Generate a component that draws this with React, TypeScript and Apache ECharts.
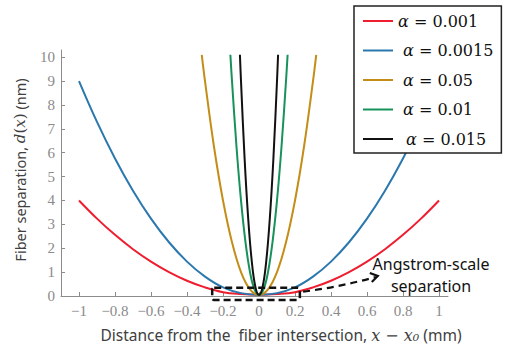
import React, { useEffect, useRef } from "react";
import * as echarts from "echarts";

const xTicks = [-1, -0.8, -0.6, -0.4, -0.2, 0, 0.2, 0.4, 0.6, 0.8, 1];
const yTicks = [0, 1, 2, 3, 4, 5, 6, 7, 8, 9, 10];

const alphaNames = ["0.001", "0.0015", "0.05", "0.01", "0.015"];
const colors = ["#ee1d2f", "#2a78ad", "#c48d18", "#16925a", "#111111"];

const redX = [-1, -0.9, -0.8, -0.7, -0.6, -0.5, -0.4, -0.3, -0.2, -0.1, 0, 0.1, 0.2, 0.3, 0.4, 0.5, 0.6, 0.7, 0.8, 0.9, 1];
const redD = [4, 3.24, 2.56, 1.96, 1.44, 1.0, 0.64, 0.36, 0.16, 0.08, 0.05, 0.08, 0.16, 0.36, 0.64, 1.0, 1.44, 1.96, 2.56, 3.24, 4];

const blueX = [-1, -0.9, -0.8, -0.7, -0.6, -0.5, -0.4, -0.3, -0.2, -0.1, 0, 0.1, 0.2, 0.3, 0.4, 0.5, 0.6, 0.7, 0.8, 0.9, 1];
const blueD = [9, 7.29, 5.76, 4.41, 3.24, 2.25, 1.44, 0.81, 0.36, 0.12, 0.05, 0.12, 0.36, 0.81, 1.44, 2.25, 3.24, 4.41, 5.76, 7.29, 9];

const goldX = [-0.318, -0.3, -0.25, -0.2, -0.15, -0.1, -0.05, 0, 0.05, 0.1, 0.15, 0.2, 0.25, 0.3, 0.318];
const goldD = [10.1, 9, 6.25, 4, 2.25, 1, 0.28, 0.05, 0.28, 1, 2.25, 4, 6.25, 9, 10.1];

const greenX = [-0.159, -0.15, -0.125, -0.1, -0.075, -0.05, -0.025, 0, 0.025, 0.05, 0.075, 0.1, 0.125, 0.15, 0.159];
const greenD = [10.1, 9, 6.25, 4, 2.25, 1, 0.28, 0.05, 0.28, 1, 2.25, 4, 6.25, 9, 10.1];

const blackX = [-0.106, -0.1, -0.08, -0.06, -0.04, -0.02, 0, 0.02, 0.04, 0.06, 0.08, 0.1, 0.106];
const blackD = [10.1, 9, 5.76, 3.24, 1.44, 0.38, 0.05, 0.38, 1.44, 3.24, 5.76, 9, 10.1];

const seriesX = [redX, blueX, goldX, greenX, blackX];
const seriesD = [redD, blueD, goldD, greenD, blackD];

const legendPad = [0, 5, 5, 5, 8];

const tickFont = '"Liberation Serif", serif';
const mathFont = '"DejaVu Serif", serif';
const sansFont = '"Noto Sans", sans-serif';

export default function App() {
  const ref = useRef<HTMLDivElement>(null);
  useEffect(() => {
    if (!ref.current) return;
    const chart = echarts.init(ref.current, null, { renderer: "svg" });
    const legendRich: any = {
      v: { fontFamily: mathFont, fontSize: 16, color: "#111", lineHeight: 20 },
    };
    alphaNames.forEach((_, i) => {
      legendRich["a" + i] = {
        fontFamily: mathFont,
        fontStyle: "italic",
        fontSize: 16,
        color: "#111",
        lineHeight: 20,
        padding: [0, 0, 0, legendPad[i]],
      };
    });
    const option: any = {
      animation: false,
      grid: { left: 61, right: 57, top: 50, bottom: 50, containLabel: false, outerBoundsMode: "none" },
      xAxis: {
        type: "value",
        min: -1.1,
        max: 1.05,
        splitLine: { show: false },
        axisLine: { onZero: false, lineStyle: { color: "#8c8c8c", width: 1 } },
        axisTick: { inside: true, length: 4, customValues: xTicks, lineStyle: { color: "#8c8c8c" } },
        axisLabel: {
          customValues: xTicks,
          margin: 7,
          color: "#8a8a8a",
          fontFamily: tickFont,
          fontSize: 15,
          formatter: (v: number) => (v < 0 ? "\u2212" + String(-v) : String(v)),
        },
        name: "{t|Distance from the  fiber intersection, }{m|x}{o| \u2212 }{m|x\u2080}{t| (mm)}",
        nameLocation: "middle",
        nameGap: 31,
        nameTextStyle: {
          padding: [0, 0, 0, 53],
          rich: {
            t: { fontFamily: sansFont, fontSize: 15.5, color: "#404040" },
            m: { fontFamily: mathFont, fontStyle: "italic", fontSize: 16, color: "#404040" },
            o: { fontFamily: mathFont, fontSize: 16, color: "#404040" },
          },
        },
      },
      yAxis: {
        type: "value",
        min: 0,
        max: 10.3,
        splitLine: { show: false },
        axisLine: { show: true, onZero: false, lineStyle: { color: "#8c8c8c", width: 1 } },
        axisTick: { show: true, inside: true, length: 4, customValues: yTicks, lineStyle: { color: "#8c8c8c" } },
        axisLabel: {
          customValues: yTicks,
          margin: 6,
          color: "#8a8a8a",
          fontFamily: tickFont,
          fontSize: 15,
        },
        name: "{t|Fiber separation, }{m|d}{o|(}{m|x}{o|)}{t| (nm)}",
        nameLocation: "middle",
        nameGap: 34,
        nameTextStyle: {
          padding: [0, 0, 0, 6],
          rich: {
            t: { fontFamily: sansFont, fontSize: 14.5, color: "#404040" },
            m: { fontFamily: mathFont, fontStyle: "italic", fontSize: 15, color: "#404040" },
            o: { fontFamily: mathFont, fontSize: 15, color: "#404040" },
          },
        },
      },
      legend: {
        orient: "vertical",
        left: 354,
        top: 6,
        padding: [7, 8, 6, 9],
        itemGap: 13.5,
        itemWidth: 30,
        itemHeight: 2,
        icon: "rect",
        backgroundColor: "#ffffff",
        borderColor: "#222222",
        borderWidth: 1.5,
        data: alphaNames,
        formatter: (name: string) => {
          const i = alphaNames.indexOf(name);
          return "{a" + i + "|\u03b1}{v| = " + name + "}";
        },
        textStyle: { rich: legendRich },
        z: 10,
      },
      series: alphaNames.map((n, i) => ({
        name: n,
        type: "line",
        smooth: 0.4,
        symbol: "none",
        showSymbol: false,
        lineStyle: { color: colors[i], width: 2 },
        itemStyle: { color: colors[i] },
        data: seriesX[i].map((x, k) => [x, seriesD[i][k]]),
        z: 2 + i,
      })),
    };
    chart.setOption(option);

    const p = (x: number, y: number) => chart.convertToPixel({ gridIndex: 0 }, [x, y]) as number[];
    const b0 = p(-0.26, 0.35);
    const b1 = p(0.227, -0.17);
    const a0 = p(0.245, 0.18);
    const a1 = p(0.66, 0.84);
    const mid = p(0.45, 0.38);
    chart.setOption({
      graphic: [
        {
          type: "rect",
          shape: { x: b0[0], y: b0[1], width: b1[0] - b0[0], height: b1[1] - b0[1], r: 2 },
          style: { fill: "none", stroke: "#111", lineWidth: 2.5, lineDash: [7, 4] },
          z: 20,
        },
        {
          type: "bezierCurve",
          shape: { x1: a0[0], y1: a0[1], x2: a1[0] - 2, y2: a1[1] + 1, cpx1: mid[0], cpy1: mid[1] },
          style: { fill: "none", stroke: "#111", lineWidth: 2.2, lineDash: [7, 5] },
          z: 20,
        },
        {
          type: "polyline",
          shape: { points: [[a1[0] - 8, a1[1] - 3], [a1[0], a1[1]], [a1[0] - 6, a1[1] + 6]] },
          style: { fill: "none", stroke: "#111", lineWidth: 2.2 },
          z: 20,
        },
        {
          type: "text",
          x: 431,
          y: 275,
          style: {
            text: "Angstrom-scale\nseparation",
            font: '16px "Noto Sans", sans-serif',
            fill: "#111",
            align: "center",
            verticalAlign: "middle",
            lineHeight: 22,
          },
          z: 20,
        },
      ],
    });
    return () => chart.dispose();
  }, []);
  return (
    <div
      ref={ref}
      style={{ position: "fixed", left: 0, top: 0, width: 505, height: 346, background: "#fff" }}
    />
  );
}
